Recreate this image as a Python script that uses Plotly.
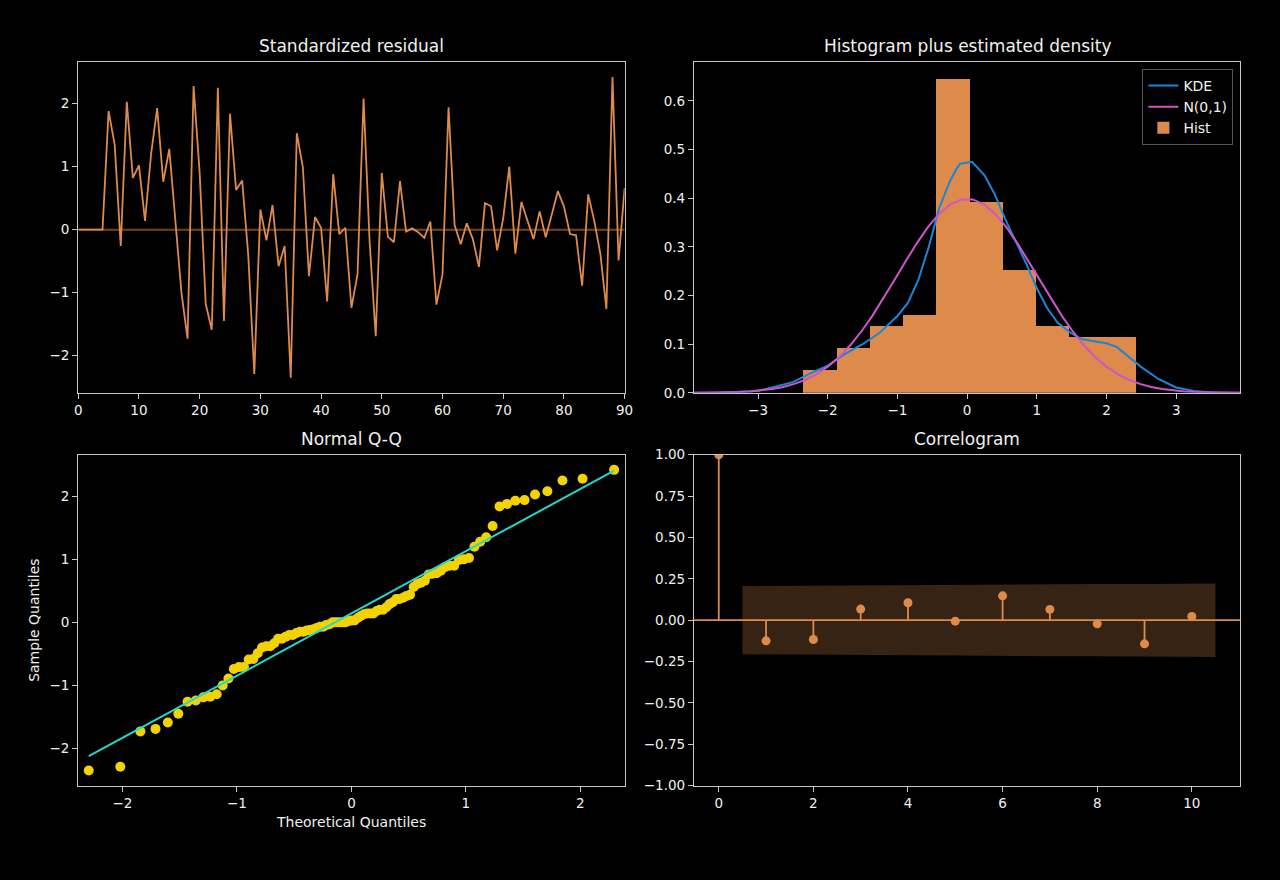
import plotly.graph_objects as go
from statistics import NormalDist
import math

# ---------------- data ----------------
resid_t = list(range(0, 91))
resid = [0, 0, 0, 0, 0, 1.88, 1.35, -0.26, 2.03, 0.82,
         1.02, 0.14, 1.2, 1.93, 0.76, 1.28, 0.2, -1.0, -1.73, 2.28,
         0.9, -1.18, -1.59, 2.25, -1.45, 1.84, 0.63, 0.78, -0.4, -2.29,
         0.32, -0.17, 0.39, -0.58, -0.26, -2.35, 1.53, 0.99, -0.74, 0.2,
         0.03, -1.14, 0.88, -0.07, 0.03, -1.24, -0.71, 2.08, -0.2, -1.69,
         0.9, -0.11, -0.2, 0.77, -0.03, 0.02, -0.04, -0.13, 0.13, -1.19,
         -0.71, 1.94, 0.07, -0.23, 0.1, -0.15, -0.59, 0.42, 0.37, -0.33,
         0.18, 1.0, -0.38, 0.44, 0.14, -0.15, 0.29, -0.12, 0.24, 0.61,
         0.37, -0.07, -0.09, -0.89, 0.56, 0.14, -0.38, -1.26, 2.42, -0.49,
         0.66]

hist_edges = [-2.35, -1.873, -1.396, -0.919, -0.442, 0.035, 0.512, 0.989, 1.466, 1.943, 2.42]
hist_density = [0.046, 0.092, 0.138, 0.161, 0.645, 0.392, 0.253, 0.138, 0.115, 0.115]

kde_x = [-3.92, -3.5, -3.0, -2.5, -2.25, -2.0, -1.75, -1.5, -1.25, -1.0, -0.85, -0.7, -0.55,
         -0.4, -0.25, -0.15, -0.1, 0.07, 0.25, 0.4, 0.55, 0.7, 0.85, 1.0, 1.15, 1.3, 1.5,
         1.65, 1.8, 2.0, 2.15, 2.3, 2.5, 2.75, 3.0, 3.25, 3.5, 3.92]
kde_y = [0.0, 0.001, 0.004, 0.022, 0.040, 0.056, 0.080, 0.100, 0.124, 0.158, 0.185, 0.232, 0.300,
         0.380, 0.434, 0.461, 0.471, 0.475, 0.447, 0.407, 0.356, 0.312, 0.265, 0.215, 0.174, 0.144, 0.122,
         0.110, 0.107, 0.102, 0.094, 0.077, 0.053, 0.028, 0.011, 0.004, 0.001, 0.0]

acf_lags = [0, 1, 2, 3, 4, 5, 6, 7, 8, 9, 10]
acf_vals = [1.0, -0.125, -0.117, 0.067, 0.105, -0.006, 0.147, 0.065, -0.022, -0.143, 0.022]
band_x = [0.5, 2, 3, 4, 5, 6, 7, 8, 9, 10.5]
band_hi = [0.206, 0.209, 0.211, 0.212, 0.214, 0.214, 0.218, 0.218, 0.218, 0.222]

titles = ["Standardized residual", "Histogram plus estimated density", "Normal Q-Q", "Correlogram"]

# ---------------- styling ----------------
ORANGE = "#dd8a4a"
BLUE = "#1a86d8"
MAGENTA = "#cc55cc"
GOLD = "#f2d300"
CYAN = "#1fd9d0"
FRAME = "#c8c8c8"
TXT = "#f0f0f0"
FONT = "DejaVu Sans"
W, H = 1280, 880

# frames in pixels (left, right, top, bottom)
boxes = {
    1: (75, 627, 55, 392),
    2: (697, 1249, 55, 392),
    3: (75, 627, 455, 792),
    4: (697, 1249, 455, 792),
}

fig = go.Figure()

# ---- 1: standardized residual ----
fig.add_trace(go.Scatter(x=[0, 90], y=[0, 0], mode="lines",
                         line=dict(color="rgba(221,138,74,0.5)", width=2),
                         showlegend=False, hoverinfo="skip", xaxis="x", yaxis="y"))
fig.add_trace(go.Scatter(x=resid_t, y=resid, mode="lines",
                         line=dict(color=ORANGE, width=1.8),
                         showlegend=False, xaxis="x", yaxis="y"))

# ---- 2: histogram + densities ----
centers = [(hist_edges[i] + hist_edges[i + 1]) / 2 for i in range(len(hist_density))]
widths = [hist_edges[i + 1] - hist_edges[i] for i in range(len(hist_density))]
fig.add_trace(go.Bar(x=centers, y=hist_density, width=widths, name="Hist",
                     marker=dict(color=ORANGE, line=dict(width=0)),
                     legendrank=3, xaxis="x2", yaxis="y2"))
fig.add_trace(go.Scatter(x=kde_x, y=kde_y, mode="lines", name="KDE",
                         line=dict(color=BLUE, width=2), legendrank=1,
                         xaxis="x2", yaxis="y2"))
nd = NormalDist(0, 1)
norm_x = [-3.92 + i * 7.84 / 49 for i in range(50)]
norm_y = [nd.pdf(v) for v in norm_x]
fig.add_trace(go.Scatter(x=norm_x, y=norm_y, mode="lines", name="N(0,1)",
                         line=dict(color=MAGENTA, width=2), legendrank=2,
                         xaxis="x2", yaxis="y2"))

# ---- 3: Q-Q ----
n = len(resid)
sample_q = sorted(resid)
theo_q = [nd.inv_cdf(i / (n + 1)) for i in range(1, n + 1)]
mean = sum(resid) / n
std = math.sqrt(sum((v - mean) ** 2 for v in resid) / n)
fig.add_trace(go.Scatter(x=theo_q, y=sample_q, mode="markers",
                         marker=dict(color=GOLD, size=10, line=dict(width=0)),
                         showlegend=False, xaxis="x3", yaxis="y3"))
fig.add_trace(go.Scatter(x=[theo_q[0], theo_q[-1]],
                         y=[mean + std * theo_q[0], mean + std * theo_q[-1]],
                         mode="lines", line=dict(color=CYAN, width=2),
                         showlegend=False, xaxis="x3", yaxis="y3"))

# ---- 4: correlogram ----
fig.add_trace(go.Scatter(x=band_x + band_x[::-1],
                         y=band_hi + [-v for v in band_hi[::-1]],
                         mode="lines", fill="toself", fillcolor="rgba(221,138,74,0.25)",
                         line=dict(width=0), showlegend=False, hoverinfo="skip",
                         xaxis="x4", yaxis="y4"))
fig.add_trace(go.Scatter(x=[-0.525, 11.025], y=[0, 0], mode="lines",
                         line=dict(color=ORANGE, width=1.8), showlegend=False,
                         hoverinfo="skip", xaxis="x4", yaxis="y4"))
stem_x, stem_y = [], []
for lg, v in zip(acf_lags, acf_vals):
    stem_x += [lg, lg, None]
    stem_y += [0, v, None]
fig.add_trace(go.Scatter(x=stem_x, y=stem_y, mode="lines",
                         line=dict(color=ORANGE, width=1.8), showlegend=False,
                         xaxis="x4", yaxis="y4"))
fig.add_trace(go.Scatter(x=acf_lags, y=acf_vals, mode="markers",
                         marker=dict(color=ORANGE, size=9), showlegend=False,
                         xaxis="x4", yaxis="y4"))

# ---------------- axes ----------------
def axis_common(**kw):
    d = dict(showline=True, linecolor=FRAME, linewidth=1.2, mirror=True,
             showgrid=False, zeroline=False, ticks="outside", ticklen=5,
             tickwidth=1, tickcolor=FRAME,
             tickfont=dict(family=FONT, size=13.5, color=TXT))
    d.update(kw)
    return d

def xdom(k):
    l, r, t, b = boxes[k]
    return [l / W, r / W]

def ydom(k):
    l, r, t, b = boxes[k]
    return [(H - b) / H, (H - t) / H]

qq_margin = 0.02 * (theo_q[-1] - theo_q[0])

layout_axes = dict(
    xaxis=axis_common(domain=xdom(1), anchor="y", range=[0, 90], tickvals=list(range(0, 91, 10))),
    yaxis=axis_common(domain=ydom(1), anchor="x", range=[-2.59, 2.66], tickvals=[-2, -1, 0, 1, 2]),
    xaxis2=axis_common(domain=xdom(2), anchor="y2", range=[-3.92, 3.92], tickvals=[-3, -2, -1, 0, 1, 2, 3]),
    yaxis2=axis_common(domain=ydom(2), anchor="x2", range=[0, 0.68],
                       tickvals=[0, 0.1, 0.2, 0.3, 0.4, 0.5, 0.6], tickformat=".1f"),
    xaxis3=axis_common(domain=xdom(3), anchor="y3",
                       range=[theo_q[0] - qq_margin, theo_q[-1] + qq_margin], tickvals=[-2, -1, 0, 1, 2]),
    yaxis3=axis_common(domain=ydom(3), anchor="x3", range=[-2.59, 2.66], tickvals=[-2, -1, 0, 1, 2]),
    xaxis4=axis_common(domain=xdom(4), anchor="y4", range=[-0.525, 11.025], tickvals=[0, 2, 4, 6, 8, 10]),
    yaxis4=axis_common(domain=ydom(4), anchor="x4", range=[-1, 1],
                       tickvals=[-1, -0.75, -0.5, -0.25, 0, 0.25, 0.5, 0.75, 1], tickformat=".2f"),
)

annotations = []
for k, title in zip([1, 2, 3, 4], titles):
    l, r, t, b = boxes[k]
    annotations.append(dict(text=title, x=(l + r) / 2 / W, y=(H - t) / H, xref="paper", yref="paper",
                            xanchor="center", yanchor="bottom", yshift=4, showarrow=False,
                            font=dict(family=FONT, size=17, color=TXT)))
l, r, t, b = boxes[3]
annotations.append(dict(text="Theoretical Quantiles", x=(l + r) / 2 / W, y=(H - 829) / H,
                        xref="paper", yref="paper", xanchor="center", yanchor="middle",
                        showarrow=False, font=dict(family=FONT, size=14, color=TXT)))
annotations.append(dict(text="Sample Quantiles", x=30 / W, y=(H - (t + b) / 2) / H,
                        xref="paper", yref="paper", xanchor="center", yanchor="middle",
                        textangle=-90, showarrow=False, font=dict(family=FONT, size=14, color=TXT)))

fig.update_layout(
    autosize=True,
    margin=dict(l=0, r=0, t=0, b=0, pad=0),
    paper_bgcolor="black", plot_bgcolor="black",
    font=dict(family=FONT, color=TXT),
    bargap=0,
    showlegend=True,
    legend=dict(x=1242 / W, y=(H - 62) / H, xanchor="right", yanchor="top",
                bgcolor="black", bordercolor="#555555", borderwidth=1,
                font=dict(family=FONT, size=14, color=TXT),
                itemwidth=30, tracegroupgap=0),
    annotations=annotations,
    **layout_axes,
)

fig.write_html(
    "out.html",
    config={"displayModeBar": False, "responsive": True},
    default_width="100vw",
    default_height="100vh",
    post_script=("document.documentElement.style.margin='0';"
                 "document.documentElement.style.padding='0';"
                 "document.documentElement.style.overflow='hidden';"
                 "document.documentElement.style.background='black';"
                 "document.body.style.margin='0';"
                 "document.body.style.padding='0';"
                 "document.body.style.overflow='hidden';"
                 "document.body.style.background='black';"
                 "window.dispatchEvent(new Event('resize'));"),
)
